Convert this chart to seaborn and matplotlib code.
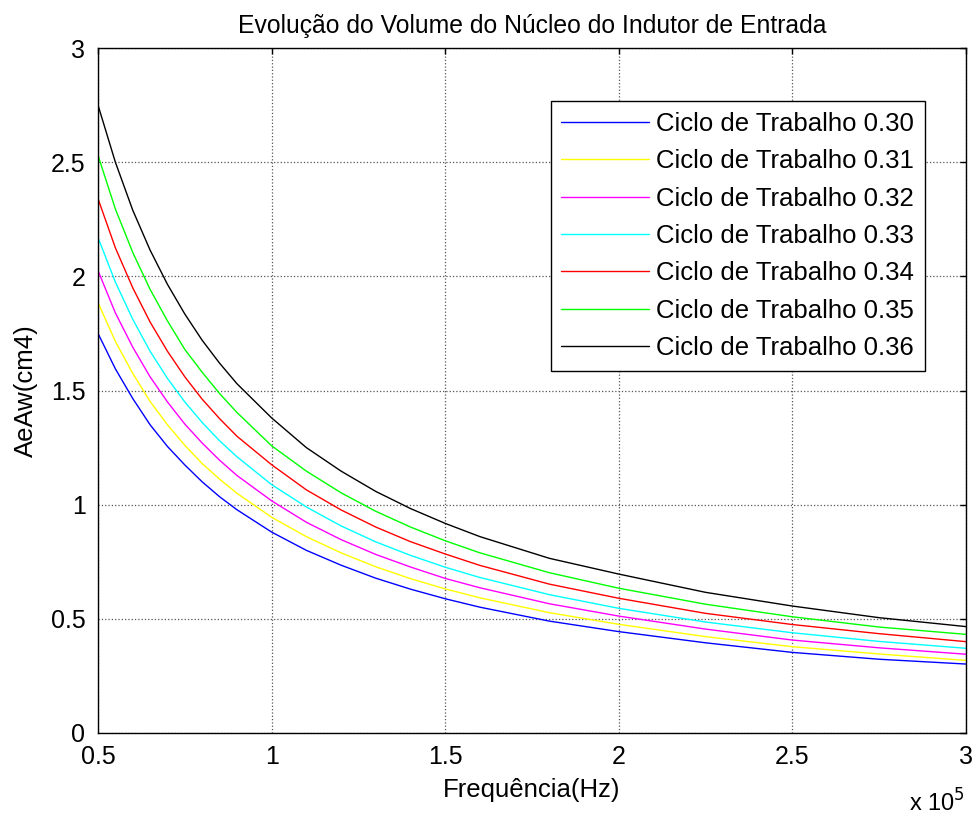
import matplotlib
matplotlib.use("Agg")
import matplotlib.pyplot as plt
import seaborn as sns
import pandas as pd

# Frequency (in units of 1e5 Hz)
freq = [0.5, 0.55, 0.6, 0.65, 0.7, 0.75, 0.8, 0.85, 0.9, 1.0, 1.1, 1.2, 1.3, 1.4,
        1.5, 1.6, 1.8, 2.0, 2.25, 2.5, 2.75, 3.0]

duty_labels = ["0.30", "0.31", "0.32", "0.33", "0.34", "0.35", "0.36"]

d030 = [1.75, 1.595, 1.465, 1.35, 1.255, 1.174, 1.10, 1.035, 0.978, 0.88, 0.80, 0.735,
        0.678, 0.63, 0.588, 0.551, 0.49, 0.444, 0.395, 0.353, 0.323, 0.302]
d031 = [1.885, 1.715, 1.575, 1.452, 1.35, 1.26, 1.18, 1.112, 1.05, 0.945, 0.86, 0.789,
        0.728, 0.676, 0.631, 0.592, 0.527, 0.476, 0.422, 0.378, 0.346, 0.318]
d032 = [2.025, 1.84, 1.69, 1.56, 1.45, 1.353, 1.27, 1.195, 1.128, 1.017, 0.923, 0.847,
        0.782, 0.727, 0.677, 0.636, 0.566, 0.512, 0.455, 0.407, 0.373, 0.345]
d033 = [2.17, 1.975, 1.812, 1.672, 1.553, 1.45, 1.36, 1.28, 1.21, 1.088, 0.99, 0.907,
        0.837, 0.778, 0.726, 0.681, 0.606, 0.546, 0.486, 0.439, 0.401, 0.371]
d034 = [2.34, 2.125, 1.95, 1.80, 1.672, 1.56, 1.462, 1.377, 1.30, 1.175, 1.065, 0.977,
        0.902, 0.838, 0.784, 0.734, 0.652, 0.59, 0.524, 0.475, 0.435, 0.40]
d035 = [2.53, 2.295, 2.105, 1.943, 1.805, 1.68, 1.58, 1.487, 1.404, 1.258, 1.147, 1.052,
        0.971, 0.902, 0.842, 0.789, 0.702, 0.634, 0.564, 0.509, 0.464, 0.432]
d036 = [2.75, 2.50, 2.29, 2.115, 1.965, 1.835, 1.72, 1.62, 1.53, 1.38, 1.25, 1.147,
        1.058, 0.983, 0.918, 0.86, 0.765, 0.696, 0.616, 0.556, 0.505, 0.466]

series = [d030, d031, d032, d033, d034, d035, d036]
colors = ["#0000ff", "#ffff00", "#ff00ff", "#00ffff", "#ff0000", "#00ff00", "#000000"]

xticks = [0.5, 1, 1.5, 2, 2.5, 3]
xticklabels = ["0.5", "1", "1.5", "2", "2.5", "3"]
yticks = [0, 0.5, 1, 1.5, 2, 2.5, 3]
yticklabels = ["0", "0.5", "1", "1.5", "2", "2.5", "3"]

rows = []
for lab, vals in zip(duty_labels, series):
    for f, v in zip(freq, vals):
        rows.append({"freq": f, "val": v, "serie": "Ciclo de Trabalho " + lab})
df = pd.DataFrame(rows)

sns.set_theme(style="white")
plt.rcParams["font.family"] = ["Liberation Sans", "DejaVu Sans"]
plt.rcParams["text.color"] = "black"
plt.rcParams["axes.labelcolor"] = "black"
plt.rcParams["xtick.color"] = "black"
plt.rcParams["ytick.color"] = "black"

fig = plt.figure(figsize=(9.76, 8.17), dpi=100)
ax = fig.add_axes([98 / 976, 1 - 733 / 817, 868 / 976, 685 / 817])

hue_order = ["Ciclo de Trabalho " + l for l in duty_labels]
sns.lineplot(data=df, x="freq", y="val", hue="serie", hue_order=hue_order,
             palette=colors, ax=ax, linewidth=1.0, estimator=None, sort=True)

ax.set_xlim(0.5, 3)
ax.set_ylim(0, 3)
ax.set_xticks(xticks)
ax.set_xticklabels(xticklabels)
ax.set_yticks(yticks)
ax.set_yticklabels(yticklabels)
ax.tick_params(direction="in", length=4, width=1, top=True, right=True,
               labelsize=18, colors="black", labelcolor="black", pad=9)
for s in ax.spines.values():
    s.set_visible(True)
    s.set_color("black")
    s.set_linewidth(1.0)
ax.grid(True, linestyle=":", color="#555555", linewidth=0.9)
ax.set_facecolor("white")

ax.set_title("Evolução do Volume do Núcleo do Indutor de Entrada", fontsize=17.8,
             pad=11, color="black")
ax.set_xlabel("Frequência(Hz)", fontsize=18.5, labelpad=6, color="black")
ax.set_ylabel("AeAw(cm4)", fontsize=18.5, labelpad=9, color="black")

fig.text(937 / 976, 1 - 803 / 817, r"x 10$^{5}$", fontsize=17, ha="center",
         va="center", color="black")

handles, labels = ax.get_legend_handles_labels()
leg = ax.legend(handles, labels, loc="upper right", bbox_to_anchor=(0.9528, 0.9226),
                fontsize=18.5, frameon=True, fancybox=False, shadow=False,
                edgecolor="black", framealpha=1, handlelength=3.4,
                handletextpad=0.3, labelspacing=0.52, borderpad=0.42,
                borderaxespad=0)
leg.get_frame().set_linewidth(1.0)
for t in leg.get_texts():
    t.set_color("black")
for h in leg.get_lines():
    h.set_linewidth(1.0)

fig.savefig("out.png", dpi=100, facecolor="white")
